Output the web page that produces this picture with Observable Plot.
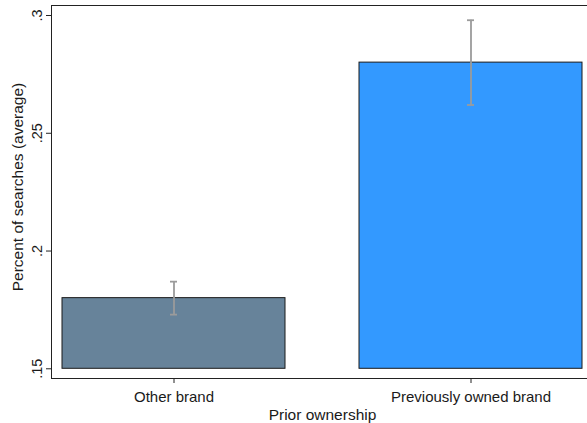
<!DOCTYPE html>
<html>
<head>
<meta charset="utf-8">
<script src="https://cdn.jsdelivr.net/npm/d3@7"></script>
<script src="https://cdn.jsdelivr.net/npm/@observablehq/plot@0.6"></script>
<style>
  html, body { margin: 0; padding: 0; background: #fff; overflow: hidden; }
  #chart svg { display: block; font-family: "Liberation Sans", Arial, Helvetica, sans-serif; }
</style>
</head>
<body>
<div id="chart"></div>
<script>
// Average share of searches by prior ownership, with 95% confidence intervals
const categories = ["Other brand", "Previously owned brand"];
const means = [0.180, 0.280];
const ciLow = [0.173, 0.262];
const ciHigh = [0.187, 0.298];
const barColors = ["#67839a", "#3399ff"];
const yTicks = [0.15, 0.2, 0.25, 0.3];
const yBase = 0.15;
const xTitle = "Prior ownership";
const yTitle = "Percent of searches (average)";

const rows = categories.map((c, i) => ({
  category: c, mean: means[i], lo: ciLow[i], hi: ciHigh[i], color: barColors[i]
}));

// Stata-style tick labels drop the leading zero
const fmt = d => String(d).replace(/^0\./, ".");

const chart = Plot.plot({
  width: 587,
  height: 423,
  marginLeft: 51,
  marginRight: -6,
  marginTop: 5,
  marginBottom: 45,
  style: { fontFamily: "'Liberation Sans', Arial, Helvetica, sans-serif", color: "#1a1a1a" },
  x: { domain: categories, paddingInner: 0.248, paddingOuter: 0.0335, label: null },
  y: { domain: [0.14588, 0.30425], label: null },
  marks: [
    Plot.barY(rows, {
      x: "category", y1: yBase, y2: "mean",
      fill: d => d.color, stroke: "#1a1a1a", strokeWidth: 1
    }),
    Plot.ruleX(rows, {x: "category", y1: "lo", y2: "hi", stroke: "#9b9b9b", strokeWidth: 1.8}),
    Plot.tickY(rows, {x: "category", y: "lo", stroke: "#9b9b9b", strokeWidth: 1.8, inset: 108}),
    Plot.tickY(rows, {x: "category", y: "hi", stroke: "#9b9b9b", strokeWidth: 1.8, inset: 108}),
    Plot.frame({stroke: "#222", strokeWidth: 1}),
    // y ticks, with rotated labels drawn as their own text mark
    Plot.axisY(yTicks, {tickSize: 5, tickFormat: () => "", label: null, stroke: "#222"}),
    Plot.text(yTicks, {
      y: d => d, text: fmt, frameAnchor: "left", dx: -10,
      rotate: -90, textAnchor: "middle", lineAnchor: "bottom",
      fontSize: 14.5, fill: "#1a1a1a"
    }),
    Plot.axisX({
      tickSize: 5, tickPadding: 8, fontSize: 15, label: null, stroke: "#222", fill: "#1a1a1a"
    }),
    Plot.text([yTitle], {
      frameAnchor: "left", rotate: -90, dx: -29, dy: -5,
      lineAnchor: "bottom", textAnchor: "middle", fontSize: 15.5, fill: "#1a1a1a"
    }),
    Plot.text([xTitle], {
      frameAnchor: "bottom", dy: 41, lineAnchor: "bottom",
      textAnchor: "middle", fontSize: 15.5, fill: "#1a1a1a"
    })
  ]
});

document.getElementById("chart").append(chart);
</script>
</body>
</html>
